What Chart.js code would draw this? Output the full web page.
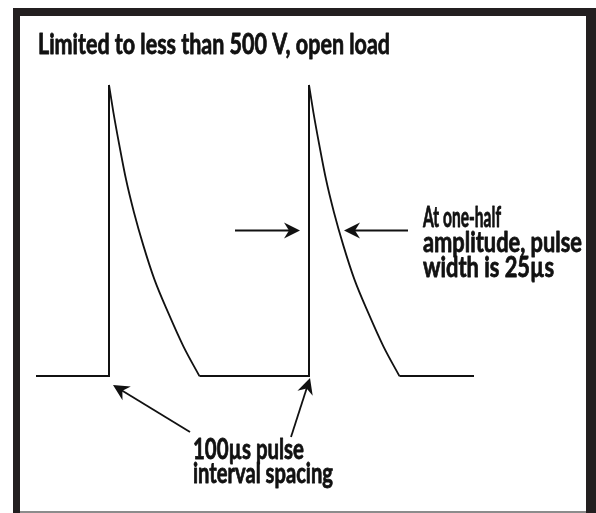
<!DOCTYPE html>
<html>
<head>
<meta charset="utf-8">
<script src="https://cdn.jsdelivr.net/npm/chart.js@4/dist/chart.umd.min.js"></script>
<style>
  html, body { margin: 0; padding: 0; background: #fff; }
  #wrap { width: 596px; height: 513px; position: relative; }
</style>
</head>
<body>
<div id="wrap"><canvas id="pulseChart"></canvas></div>
<script>
// waveform: time in microseconds, level in volts
var edgeTimeUs  = [-36.5, 0, 0, null, 45.2, 100, 100, null, 145.2, 182.5];
var edgeVolts   = [0, 0, 500, null, 0, 0, 500, null, 0, 0];

var decayTimeUs = [0, 2.2, 5.2, 8.5, 12.5, 17.2, 22.7, 29.7, 37.2, 45.2,
                   null,
                   100, 102.2, 105.2, 108.5, 112.5, 117.2, 122.7, 129.7, 137.2, 145.2];
var decayVolts  = [500, 453, 396, 338, 281, 224, 166, 108, 51, 0,
                   null,
                   500, 453, 396, 338, 281, 224, 166, 108, 51, 0];

var titleText = "Limited to less than 500 V, open load";
var widthNote = ["At one-half", "amplitude, pulse", "width is 25\u00b5s"];
var spacingNote = ["100\u00b5s pulse", "interval spacing"];

function toPoints(xs, ys) {
  var pts = [];
  for (var i = 0; i < xs.length; i++) {
    pts.push(xs[i] === null ? {x: null, y: null} : {x: xs[i], y: ys[i]});
  }
  return pts;
}

// draw text squeezed to a given width and cap height
function fitText(ctx, str, x, y, w, cap) {
  var m = ctx.measureText(str).width;
  var h = ctx.measureText('H').actualBoundingBoxAscent;
  ctx.save();
  ctx.translate(x, y);
  ctx.scale(w / m, cap / h);
  ctx.lineWidth = 0.8;
  ctx.lineJoin = 'round';
  ctx.strokeText(str, 0, 0);
  ctx.fillText(str, 0, 0);
  ctx.restore();
}

function arrow(ctx, x1, y1, x2, y2) {
  var a = Math.atan2(y2 - y1, x2 - x1);
  ctx.save();
  ctx.translate(x2, y2);
  ctx.rotate(a);
  var len = Math.hypot(x2 - x1, y2 - y1);
  ctx.beginPath();
  ctx.moveTo(-len, 0);
  ctx.lineTo(-10, 0);
  ctx.stroke();
  ctx.beginPath();
  ctx.moveTo(0, 0);
  ctx.lineTo(-16, 8);
  ctx.lineTo(-11, 0);
  ctx.lineTo(-16, -8);
  ctx.closePath();
  ctx.fill();
  ctx.restore();
}

var annotate = {
  id: 'annotate',
  beforeDraw: function(chart) {
    var ctx = chart.ctx;
    ctx.save();
    ctx.fillStyle = '#fff';
    ctx.fillRect(0, 0, chart.width, chart.height);
    ctx.fillStyle = '#231f20';
    ctx.fillRect(13, 8, 583, 505);
    ctx.fillStyle = '#fff';
    ctx.fillRect(20, 16, 566, 495);
    ctx.fillStyle = '#8c8c8c';
    ctx.fillRect(20, 511, 566, 2);
    ctx.restore();
  },
  afterDatasetsDraw: function(chart) {
    var ctx = chart.ctx;
    var xs = chart.scales.x, ys = chart.scales.y;
    ctx.save();
    ctx.strokeStyle = '#111';
    ctx.fillStyle = '#111';
    ctx.lineWidth = 1.8;

    // half amplitude arrows on the second pulse
    var yHalf = ys.getPixelForValue(250);
    var lTip = xs.getPixelForValue(100) - 9;
    arrow(ctx, lTip - 65, yHalf, lTip, yHalf);
    var rTip = xs.getPixelForValue(117.5);
    arrow(ctx, rTip + 64, yHalf, rTip, yHalf);

    // spacing arrows to the foot of each pulse
    var y0 = ys.getPixelForValue(0);
    var p1 = xs.getPixelForValue(0), p2 = xs.getPixelForValue(100);
    arrow(ctx, p1 + 81, y0 + 56, p1 + 4, y0 + 9);
    arrow(ctx, p2 - 18, y0 + 61, p2 + 1, y0 + 2);

    ctx.font = 'bold 28px "Liberation Sans Narrow", Lato, "Open Sans", sans-serif';
    ctx.textBaseline = 'alphabetic';
    ctx.textAlign = 'left';
    fitText(ctx, titleText, 38, 54, 352, 21);

    var wW = [78, 159, 131];
    for (var i = 0; i < widthNote.length; i++) {
      fitText(ctx, widthNote[i], 423, 227 + i * 25, wW[i], 21);
    }
    var sW = [111, 140];
    for (var j = 0; j < spacingNote.length; j++) {
      fitText(ctx, spacingNote[j], 193, 459 + j * 24, sW[j], 21);
    }
    ctx.restore();
  }
};

new Chart(document.getElementById('pulseChart'), {
  type: 'line',
  data: {
    datasets: [{
      data: toPoints(edgeTimeUs, edgeVolts),
      borderColor: '#111',
      borderWidth: 2,
      pointRadius: 0,
      tension: 0,
      spanGaps: false,
      clip: false
    }, {
      data: toPoints(decayTimeUs, decayVolts),
      borderColor: '#111',
      borderWidth: 1.8,
      pointRadius: 0,
      cubicInterpolationMode: 'monotone',
      spanGaps: false,
      clip: false
    }]
  },
  options: {
    responsive: true,
    maintainAspectRatio: false,
    animation: false,
    layout: { padding: { left: 36, right: 122, top: 85, bottom: 137 } },
    plugins: { legend: { display: false }, tooltip: { enabled: false } },
    scales: {
      x: { type: 'linear', min: -36.5, max: 182.5, display: false },
      y: { min: 0, max: 500, display: false }
    }
  },
  plugins: [annotate]
});
</script>
</body>
</html>
